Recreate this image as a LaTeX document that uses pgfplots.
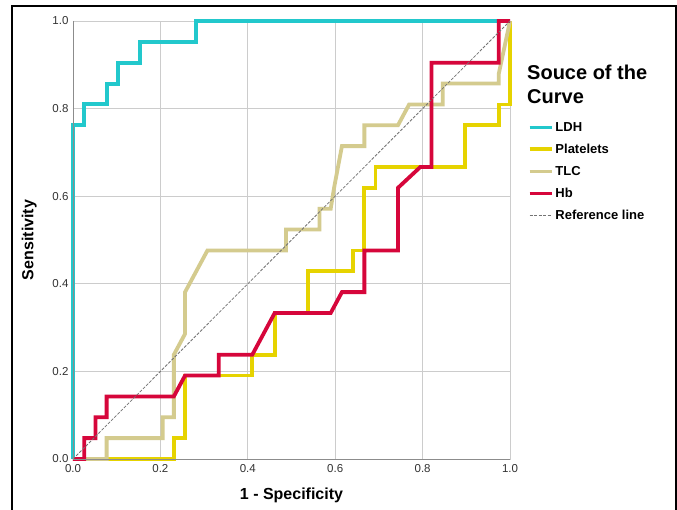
\documentclass[border=0pt]{standalone}
\usepackage{pgfplots}
\pgfplotsset{compat=1.18}
\usepackage{fontspec}
\setmainfont{Liberation Sans}
\definecolor{cLDH}{HTML}{22C8CC}
\definecolor{cPlt}{HTML}{E6D300}
\definecolor{cTLC}{HTML}{D4CB8E}
\definecolor{cHb}{HTML}{D6063B}
\definecolor{cGrid}{HTML}{CCCCCC}
\definecolor{cAxis}{HTML}{8C8C8C}
\begin{document}
\begin{tikzpicture}
\path[use as bounding box] (0,0) rectangle (677pt,510pt);
\fill[white] (0,0) rectangle (677pt,510pt);
\draw[black,line width=1.6pt] (12pt,-2pt) -- (12pt,504pt) -- (676pt,504pt) -- (676pt,-2pt);
\begin{axis}[
  at={(73pt,51pt)}, anchor=south west,
  scale only axis, width=437pt, height=438pt,
  xmin=0, xmax=1, ymin=0, ymax=1,
  xtick={0,0.2,...,1}, ytick={0,0.2,...,1},
  major tick length=0pt,
  grid=major,
  major grid style={cGrid, line width=0.8pt},
  axis line style={cGrid, line width=0.8pt},
  clip=false,
  /pgf/number format/.cd, fixed, fixed zerofill, precision=1, assume math mode=true,
  /pgfplots/.cd,
  tick label style={font=\fontsize{11.5}{13}\selectfont, text=black!80},
  xticklabel style={yshift=-2pt},
  yticklabel style={xshift=-1pt},
  xlabel={1 - Specificity},
  ylabel={Sensitivity},
  xlabel style={font=\bfseries\fontsize{16}{18}\selectfont, at={(axis description cs:0.5,-0.082)}, anchor=center},
  ylabel style={font=\bfseries\fontsize{16}{18}\selectfont, at={(axis description cs:-0.1,0.5)}, anchor=center},
  legend style={draw=none, fill=none, at={(1.04,0.774)}, anchor=north west,
    font=\bfseries\fontsize{13}{15}\selectfont, row sep=7.3pt, inner sep=0pt},
  legend cell align=left,
  legend image code/.code={\draw[#1] (0pt,0pt) -- (22pt,0pt);},
]
\addplot[cLDH, line width=3.8pt] coordinates {
(0,0)(0,0.762)(0.0256,0.762)(0.0256,0.810)(0.0769,0.810)(0.0769,0.857)(0.1026,0.857)(0.1026,0.905)(0.1538,0.905)(0.1538,0.952)(0.2821,0.952)(0.2821,1)(1,1)};
\addlegendentry{LDH}
\addplot[cPlt, line width=3.8pt] coordinates {
(0,0)(0.2308,0)(0.2308,0.0476)(0.2564,0.0476)(0.2564,0.1905)(0.4103,0.1905)(0.4103,0.2381)(0.4615,0.2381)(0.4615,0.3333)(0.5385,0.3333)(0.5385,0.4286)(0.6410,0.4286)(0.6410,0.4762)(0.6667,0.4762)(0.6667,0.6190)(0.6923,0.6190)(0.6923,0.6667)(0.8974,0.6667)(0.8974,0.7619)(0.9744,0.7619)(0.9744,0.8095)(1,0.8095)(1,1)};
\addlegendentry{Platelets}
\addplot[cTLC, line width=3.8pt] coordinates {
(0,0)(0.0769,0)(0.0769,0.0476)(0.2051,0.0476)(0.2051,0.0952)(0.2308,0.0952)(0.2308,0.2381)(0.2564,0.2857)(0.2564,0.3810)(0.3077,0.4762)(0.4872,0.4762)(0.4872,0.5238)(0.5641,0.5238)(0.5641,0.5714)(0.5897,0.5714)(0.5974,0.6190)(0.6154,0.7143)(0.6667,0.7143)(0.6667,0.7619)(0.7436,0.7619)(0.7692,0.8095)(0.8462,0.8095)(0.8462,0.8571)(0.9744,0.8571)(0.9744,0.88)(1,1)};
\addlegendentry{TLC}
\addplot[cHb, line width=3.8pt] coordinates {
(0,0)(0.0256,0)(0.0256,0.0476)(0.0513,0.0476)(0.0513,0.0952)(0.0769,0.0952)(0.0769,0.1429)(0.2308,0.1429)(0.2564,0.1905)(0.3333,0.1905)(0.3333,0.2381)(0.4103,0.2381)(0.4615,0.3333)(0.5897,0.3333)(0.6154,0.3810)(0.6667,0.3810)(0.6667,0.4762)(0.7436,0.4762)(0.7436,0.6190)(0.7949,0.6667)(0.8205,0.6667)(0.8205,0.9048)(0.9744,0.9048)(0.9744,1)(1,1)};
\addlegendentry{Hb}
\addplot[black!55, line width=0.8pt, dash pattern=on 3pt off 1.5pt] coordinates {(0,0)(1,1)};
\addlegendentry{Reference line}
\draw[cAxis, line width=0.9pt] (rel axis cs:0,1) -- (rel axis cs:0,0) -- (rel axis cs:1,0);
\end{axis}
\node[anchor=north west, inner sep=0pt, align=left, font=\bfseries\fontsize{20}{24}\selectfont] at (527pt,445pt) {Souce of the\\Curve};
\end{tikzpicture}
\end{document}
